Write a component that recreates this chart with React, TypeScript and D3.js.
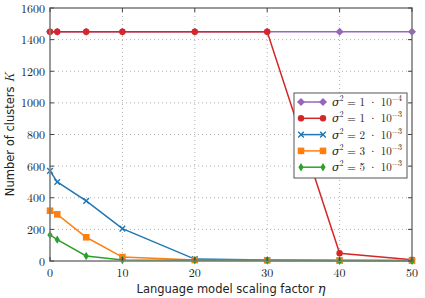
// Cluster count vs LM scaling factor — line chart with markers, D3 scales.
import { useEffect, useRef } from "react";
import * as d3 from "d3";

const ETA = [0, 1, 5, 10, 20, 30, 40, 50];
const K_1E4 = [1450, 1450, 1450, 1450, 1450, 1450, 1450, 1450];
const K_1E3 = [1450, 1450, 1450, 1450, 1450, 1450, 49, 8];
const K_2E3 = [570, 500, 380, 205, 12, 6, 4, 3];
const K_3E3 = [318, 295, 150, 25, 6, 4, 3, 3];
const K_5E3 = [165, 135, 32, 6, 4, 3, 2, 2];
const X_TICKS = [0, 10, 20, 30, 40, 50];
const Y_TICKS = [0, 200, 400, 600, 800, 1000, 1200, 1400, 1600];

type Marker = "diamond" | "circle" | "x" | "square" | "thin-diamond";
const SERIES: { exp: string; mant: string; values: number[]; color: string; marker: Marker }[] = [
  { mant: "1", exp: "−4", values: K_1E4, color: "#9467bd", marker: "diamond" },
  { mant: "1", exp: "−3", values: K_1E3, color: "#d62728", marker: "circle" },
  { mant: "2", exp: "−3", values: K_2E3, color: "#1f77b4", marker: "x" },
  { mant: "3", exp: "−3", values: K_3E3, color: "#ff7f0e", marker: "square" },
  { mant: "5", exp: "−3", values: K_5E3, color: "#2ca02c", marker: "thin-diamond" },
];

const W = 425;
const H = 298;
const M = { top: 8, right: 13, bottom: 37, left: 50 };
const SERIF = "'Latin Modern Roman', 'DejaVu Serif', serif";
const SANS = "'DejaVu Sans', sans-serif";

function drawMarker(g: d3.Selection<SVGGElement, unknown, null, undefined>, m: Marker, cx: number, cy: number, color: string) {
  if (m === "circle") {
    g.append("circle").attr("cx", cx).attr("cy", cy).attr("r", 3.2).attr("fill", color);
  } else if (m === "square") {
    g.append("rect").attr("x", cx - 3.3).attr("y", cy - 3.3).attr("width", 6.6).attr("height", 6.6).attr("fill", color);
  } else if (m === "diamond") {
    const r = 4;
    g.append("path").attr("d", `M${cx},${cy - r}L${cx + r},${cy}L${cx},${cy + r}L${cx - r},${cy}Z`).attr("fill", color);
  } else if (m === "thin-diamond") {
    g.append("path").attr("d", `M${cx},${cy - 4.2}L${cx + 2.6},${cy}L${cx},${cy + 4.2}L${cx - 2.6},${cy}Z`).attr("fill", color);
  } else {
    const r = 2.8;
    g.append("path")
      .attr("d", `M${cx - r},${cy - r}L${cx + r},${cy + r}M${cx - r},${cy + r}L${cx + r},${cy - r}`)
      .attr("stroke", color)
      .attr("stroke-width", 1.4)
      .attr("fill", "none");
  }
}

export default function App() {
  const ref = useRef<SVGSVGElement>(null);

  useEffect(() => {
    const svg = d3.select(ref.current!);
    svg.selectAll("*").remove();

    const innerW = W - M.left - M.right;
    const innerH = H - M.top - M.bottom;
    const x = d3.scaleLinear().domain([0, 50]).range([M.left, M.left + innerW]);
    const y = d3.scaleLinear().domain([0, 1600]).range([M.top + innerH, M.top]);

    svg.append("rect").attr("width", W).attr("height", H).attr("fill", "#fff");

    // dotted grid
    const grid = svg.append("g").attr("stroke", "#b0b0b0").attr("stroke-width", 1).attr("stroke-dasharray", "1,3");
    X_TICKS.slice(1, -1).forEach((t) =>
      grid.append("line").attr("x1", x(t)).attr("x2", x(t)).attr("y1", y(0)).attr("y2", y(1600)),
    );
    Y_TICKS.slice(1, -1).forEach((t) =>
      grid.append("line").attr("y1", y(t)).attr("y2", y(t)).attr("x1", x(0)).attr("x2", x(50)),
    );

    // series
    const line = d3
      .line<number>()
      .x((_, i) => x(ETA[i]))
      .y((d) => y(d));
    SERIES.forEach((s) => {
      const g = svg.append("g");
      g.append("path")
        .datum(s.values)
        .attr("d", line)
        .attr("fill", "none")
        .attr("stroke", s.color)
        .attr("stroke-width", 1.5);
      s.values.forEach((v, i) => drawMarker(g, s.marker, x(ETA[i]), y(v), s.color));
    });

    // frame
    svg
      .append("rect")
      .attr("x", x(0))
      .attr("y", y(1600))
      .attr("width", innerW)
      .attr("height", innerH)
      .attr("fill", "none")
      .attr("stroke", "#808080")
      .attr("stroke-width", 1.6);

    // inward ticks on all sides
    const ticks = svg.append("g").attr("stroke", "#444").attr("stroke-width", 1);
    X_TICKS.forEach((t) => {
      ticks.append("line").attr("x1", x(t)).attr("x2", x(t)).attr("y1", y(0)).attr("y2", y(0) - 4);
      ticks.append("line").attr("x1", x(t)).attr("x2", x(t)).attr("y1", y(1600)).attr("y2", y(1600) + 4);
    });
    Y_TICKS.forEach((t) => {
      ticks.append("line").attr("y1", y(t)).attr("y2", y(t)).attr("x1", x(0)).attr("x2", x(0) + 4);
      ticks.append("line").attr("y1", y(t)).attr("y2", y(t)).attr("x1", x(50)).attr("x2", x(50) - 4);
    });

    svg
      .append("g")
      .selectAll("text")
      .data(X_TICKS)
      .join("text")
      .attr("x", (d) => x(d))
      .attr("y", y(0) + 16)
      .attr("text-anchor", "middle")
      .attr("font-family", SERIF)
      .attr("font-size", 12)
      .attr("fill", "#222")
      .text((d) => d);
    svg
      .append("g")
      .selectAll("text")
      .data(Y_TICKS)
      .join("text")
      .attr("x", x(0) - 5)
      .attr("y", (d) => y(d) + 4.5)
      .attr("text-anchor", "end")
      .attr("font-family", SERIF)
      .attr("font-size", 12)
      .attr("fill", "#222")
      .text((d) => d);

    // axis labels
    const xl = svg
      .append("text")
      .attr("x", (x(0) + x(50)) / 2)
      .attr("y", H - 5)
      .attr("text-anchor", "middle")
      .attr("font-family", SANS)
      .attr("font-size", 11.5)
      .attr("fill", "#222");
    xl.append("tspan").text("Language model scaling factor ");
    xl.append("tspan").attr("font-family", SERIF).attr("font-style", "italic").attr("font-size", 13).text("η");

    const yl = svg
      .append("text")
      .attr("transform", `translate(14,${(y(0) + y(1600)) / 2}) rotate(-90)`)
      .attr("text-anchor", "middle")
      .attr("font-family", SANS)
      .attr("font-size", 11.5)
      .attr("fill", "#222");
    yl.append("tspan").text("Number of clusters ");
    yl.append("tspan").attr("font-family", SERIF).attr("font-style", "italic").attr("font-size", 13).text("K");

    // legend
    const lg = svg.append("g").attr("transform", "translate(294,93)");
    lg.append("rect")
      .attr("width", 113)
      .attr("height", 85)
      .attr("fill", "#fff")
      .attr("stroke", "#555")
      .attr("stroke-width", 1);
    SERIES.forEach((s, i) => {
      const cy = 9 + i * 16.3;
      const row = lg.append("g");
      row.append("line").attr("x1", 7).attr("x2", 29).attr("y1", cy).attr("y2", cy).attr("stroke", s.color).attr("stroke-width", 1.5);
      drawMarker(row, s.marker, 7, cy, s.color);
      drawMarker(row, s.marker, 29, cy, s.color);
      const t = row
        .append("text")
        .attr("x", 38)
        .attr("y", cy + 4)
        .attr("font-family", SERIF)
        .attr("font-size", 11)
        .attr("fill", "#222");
      t.append("tspan").attr("font-style", "italic").text("σ");
      t.append("tspan").attr("font-size", 8).attr("dy", -5).text("2");
      t.append("tspan").attr("dy", 5).text(` = ${s.mant} · 10`);
      t.append("tspan").attr("font-size", 8).attr("dy", -5).text(s.exp);
    });
  }, []);

  return (
    <div style={{ position: "absolute", left: 0, top: 0 }}>
      <svg ref={ref} width={W} height={H} viewBox={`0 0 ${W} ${H}`} style={{ display: "block" }} />
    </div>
  );
}
